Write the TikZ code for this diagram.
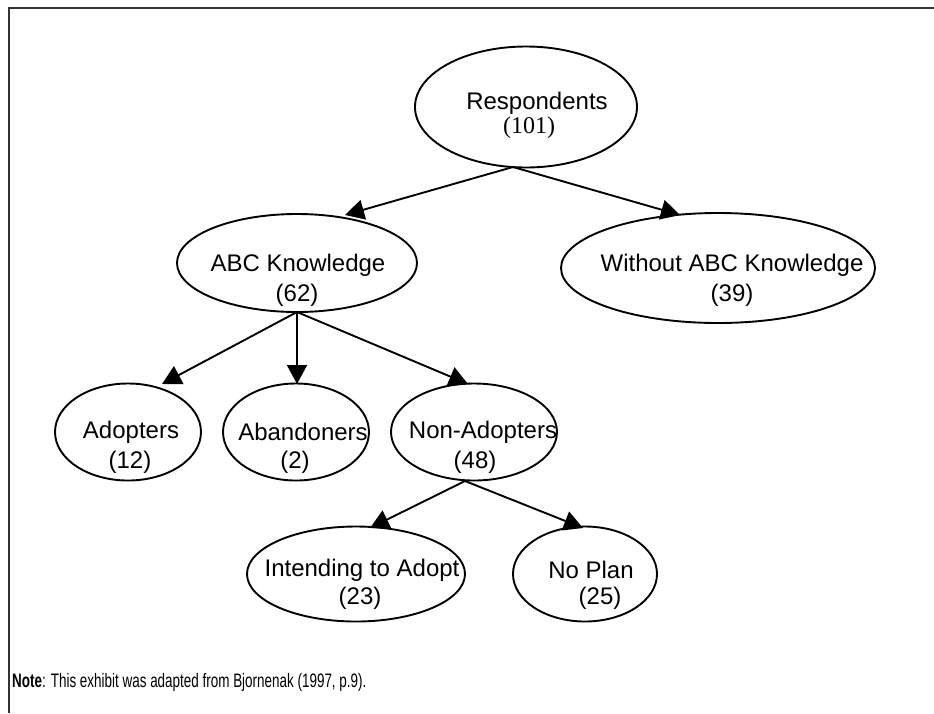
\documentclass[tikz,border=0pt]{standalone}
\usepackage{fontspec}
\setmainfont{Liberation Sans}
\newfontfamily\tnr{Liberation Serif}
\usetikzlibrary{shapes.geometric,arrows.meta}
\tikzset{
  oval/.style={draw, ellipse, line width=1.9pt, inner sep=0pt},
  lbl/.style={inner sep=0pt, font=\fontsize{24}{26}\selectfont},
  arr/.style={line width=1.9pt, -{Triangle[length=19pt,width=20pt]}},
  frame/.style={line width=2.5pt, draw=black!80}
}
\begin{document}
\begin{tikzpicture}[x=1pt,y=-1pt]
\useasboundingbox (0,0) rectangle (934,713);
\fill[white] (0,0) rectangle (934,713);
\coordinate (fa) at (934,8);
\coordinate (fb) at (9,8);
\coordinate (fc) at (9,713);
\draw[frame] (fa) -- (fb) -- (fc);

% ellipses
\node[oval, minimum width=222pt, minimum height=121pt] (resp) at (526,107) {};
\node[oval, minimum width=240pt, minimum height=98pt] (abc) at (297,263) {};
\node[oval, minimum width=314pt, minimum height=110pt] (wabc) at (718,268) {};
\node[oval, minimum width=146pt, minimum height=97pt] (adop) at (128,432) {};
\node[oval, minimum width=146pt, minimum height=97pt] (aban) at (296,432) {};
\node[oval, minimum width=166pt, minimum height=97pt] (nonad) at (474,432) {};
\node[oval, minimum width=218pt, minimum height=95pt] (intend) at (356,574) {};
\node[oval, minimum width=144pt, minimum height=95pt] (noplan) at (585,574) {};

% texts
\node[lbl] (respT) at (537,103) {Respondents};
\node[lbl, font=\tnr\fontsize{24}{26}\selectfont] (respN) at (529,128) {(101)};
\node[lbl] (abcT) at (298,265) {ABC Knowledge};
\node[lbl] (abcN) at (297,295) {(62)};
\node[lbl] (wabcT) at (732,265) {Without ABC Knowledge};
\node[lbl] (wabcN) at (732,295) {(39)};
\node[lbl] (adopT) at (131,432) {Adopters};
\node[lbl] (adopN) at (130,462) {(12)};
\node[lbl] (abanT) at (303,432) {Abandoners};
\node[lbl] (abanN) at (295,462) {(2)};
\node[lbl] (nonadT) at (483,432) {Non-Adopters};
\node[lbl] (nonadN) at (475,462) {(48)};
\node[lbl] (intendT) at (362,570) {Intending to Adopt};
\node[lbl] (intendN) at (360,598) {(23)};
\node[lbl] (noplanT) at (591,570) {No Plan};
\node[lbl] (noplanN) at (600,598) {(25)};

% connector points
\coordinate (s1) at (513,167);
\coordinate (t1) at (345,215);
\coordinate (t2) at (680,215);
\coordinate (s2) at (297,312);
\coordinate (t3) at (162,384);
\coordinate (t4) at (297,384);
\coordinate (t5) at (468,384);
\coordinate (s3) at (465,481);
\coordinate (t6) at (370,528);
\coordinate (t7) at (583,528);

\draw[arr] (s1) -- (t1);
\draw[arr] (s1) -- (t2);
\draw[arr] (s2) -- (t3);
\draw[arr] (s2) -- (t4);
\draw[arr] (s2) -- (t5);
\draw[arr] (s3) -- (t6);
\draw[arr] (s3) -- (t7);

\node[anchor=west, inner sep=0pt, font=\fontsize{19.5}{22}\selectfont] (note) at (12,682)
  {\scalebox{0.69}[1]{\textbf{Note}: This exhibit was adapted from Bjornenak (1997, p.9).}};
\end{tikzpicture}
\end{document}
